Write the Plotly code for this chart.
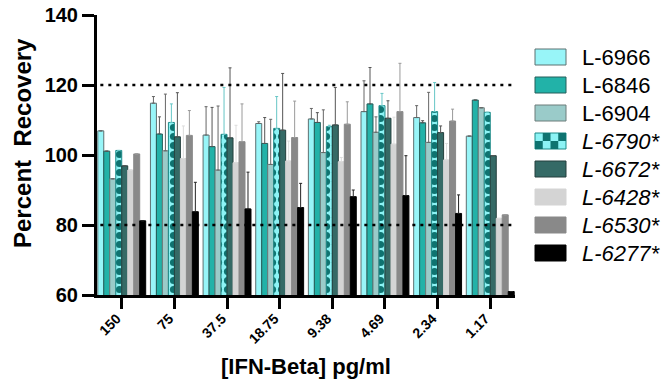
import plotly.graph_objects as go

# ---------------- data ----------------
concentrations = ["150", "75", "37.5", "18.75", "9.38", "4.69", "2.34", "1.17"]

series_names = ["L-6966", "L-6846", "L-6904", "L-6790*", "L-6672*", "L-6428*", "L-6530*", "L-6277*"]

l6966 = [106.9, 114.8, 105.7, 109.0, 110.3, 112.4, 110.7, 105.4]
l6846 = [101.1, 106.0, 102.4, 103.3, 109.3, 114.6, 109.2, 115.7]
l6904 = [93.2, 101.2, 95.7, 97.3, 100.7, 106.5, 103.6, 113.5]
l6790 = [101.3, 109.3, 105.9, 107.6, 108.1, 114.1, 112.4, 112.2]
l6672 = [96.9, 105.2, 104.9, 107.1, 108.6, 110.5, 106.4, 99.8]
l6428 = [95.7, 99.0, 97.8, 98.3, 98.1, 103.1, 98.6, 81.9]
l6530 = [100.3, 105.6, 103.8, 105.0, 108.8, 112.4, 109.7, 82.9]
l6277 = [81.2, 83.8, 84.6, 85.0, 88.1, 88.4, 83.3, 61.0]

# upper error (SD), None where no error bar is shown
e6966 = [None, 1.9, 8.1, 0.5, 3.0, 8.8, 3.4, None]
e6846 = [None, 4.9, 11.2, 7.4, 2.8, 10.4, 0.6, None]
e6904 = [None, 16.2, 18.3, 12.9, 12.2, 4.4, 14.3, None]
e6790 = [None, 5.3, 13.4, 9.1, 0.4, 3.5, 8.3, None]
e6672 = [None, 12.6, 20.0, 16.2, 10.7, 5.0, 1.9, None]
e6428 = [None, 9.3, 10.7, 5.7, 1.2, 7.7, 4.7, None]
e6530 = [None, 7.1, 10.8, 10.4, 6.4, 13.8, 3.4, None]
e6277 = [None, 8.4, 10.5, 6.9, 1.9, 11.4, 5.3, None]

limit_lines = [120, 80]
y_ticks = [60, 80, 100, 120, 140]

values = [l6966, l6846, l6904, l6790, l6672, l6428, l6530, l6277]
errors = [e6966, e6846, e6904, e6790, e6672, e6428, e6530, e6277]

# ---------------- styles ----------------
FONT = "Liberation Sans, Arial, sans-serif"
fills = ["#98F5F8", "#22B2A8", "#9ACBC9", "#8CF3F5", "#356A66", "#D4D4D4", "#898989", "#000000"]
outlines = ["#5d7071", "#245f5b", "#6d7c7b", "#1d8a88", "#243f3d", "#D4D4D4", "#898989", "#000000"]
err_colors = ["#666666", "#555555", "#666666", "#66c6c6", "#555555", "#dcdcdc", "#9a9a9a", "#222222"]
pattern_fg = "#0E7370"

fig = go.Figure()
for i, (name, vals, errs) in enumerate(zip(series_names, values, errors)):
    marker = dict(color=fills[i], line=dict(color=outlines[i], width=1))
    if name == "L-6790*":
        marker["pattern"] = dict(shape=".", fgcolor=pattern_fg, bgcolor=fills[i],
                                 fillmode="replace", fgopacity=1, size=9, solidity=0.5)
    fig.add_trace(go.Bar(
        x=concentrations, y=vals, name=name, marker=marker, showlegend=False,
        error_y=dict(type="data", symmetric=False, array=errs,
                     arrayminus=[0] * len(errs), color=err_colors[i],
                     thickness=1, width=1.5),
    ))

# dotted limit lines
for yv in limit_lines:
    fig.add_shape(type="line", xref="paper", yref="y", x0=0.008, x1=0.995, y0=yv, y1=yv,
                  line=dict(color="black", width=2.5, dash="3px,5px"), layer="above")

# ---------------- manual legend ----------------
W, H = 664, 384
L, R, T, B = 97, 149, 15, 89
pw, ph = W - L - R, H - T - B


def px_x(p):
    return (p - L) / pw


def px_y(p):
    return (H - B - p) / ph


leg_x0, leg_x1, leg_tx = 535, 566, 580
leg_y0, leg_step, box_h = 57, 28.0, 16
for i, name in enumerate(series_names):
    yc = leg_y0 + i * leg_step
    y0, y1 = px_y(yc + box_h / 2), px_y(yc - box_h / 2)
    fig.add_shape(type="rect", xref="paper", yref="paper",
                  x0=px_x(leg_x0), x1=px_x(leg_x1), y0=y0, y1=y1,
                  fillcolor=fills[i], line=dict(color=outlines[i], width=1))
    if name == "L-6790*":
        cols, rows = 4, 2
        cw = (leg_x1 - leg_x0) / cols
        rh = box_h / rows
        for r in range(rows):
            for c in range(cols):
                if (r + c) % 2 == 1:
                    fig.add_shape(type="rect", xref="paper", yref="paper",
                                  x0=px_x(leg_x0 + c * cw), x1=px_x(leg_x0 + (c + 1) * cw),
                                  y0=px_y(yc - box_h / 2 + (r + 1) * rh),
                                  y1=px_y(yc - box_h / 2 + r * rh),
                                  fillcolor=pattern_fg, line=dict(width=0))
    label = name if not name.endswith("*") else "<i>" + name + "</i>"
    fig.add_annotation(xref="paper", yref="paper", x=px_x(leg_tx), y=px_y(yc),
                       text=label, showarrow=False, xanchor="left", yanchor="middle",
                       font=dict(family=FONT, size=22, color="black"))

# axis titles
fig.add_annotation(xref="paper", yref="paper", x=px_x(306), y=px_y(366),
                   text="<b>[IFN-Beta] pg/ml</b>", showarrow=False,
                   xanchor="center", yanchor="middle",
                   font=dict(family=FONT, size=22, color="black"))
fig.add_annotation(xref="paper", yref="paper", x=px_x(22), y=px_y(143),
                   text="<b>Percent\u00a0\u00a0Recovery</b>", showarrow=False, textangle=-90,
                   xanchor="center", yanchor="middle",
                   font=dict(family=FONT, size=24, color="black"))

fig.update_layout(
    width=W, height=H,
    margin=dict(l=L, r=R, t=T, b=B, pad=0),
    paper_bgcolor="white", plot_bgcolor="white",
    barmode="group", bargap=0.09, bargroupgap=0,
    showlegend=False,
    font=dict(family=FONT, color="black"),
)
fig.update_xaxes(
    type="category", range=[-0.47, 7.47],
    showline=True, linecolor="black", linewidth=3,
    ticks="outside", ticklen=11, tickwidth=3, tickcolor="black",
    tickangle=-45, tickfont=dict(family=FONT, size=14, color="black", weight="bold"),
    ticklabelshift=-5, ticklabelstandoff=-4,
    showgrid=False, zeroline=False, automargin=False,
)
fig.update_yaxes(
    range=[60, 140], tickvals=y_ticks,
    showline=True, linecolor="black", linewidth=3,
    ticks="outside", ticklen=12, tickwidth=3, tickcolor="black",
    tickfont=dict(family=FONT, size=20, color="black", weight="bold"),
    showgrid=False, zeroline=False, automargin=False,
)

fig.write_html(
    "out.html",
    config={"displayModeBar": False},
    post_script="document.body.style.margin='0';document.body.style.overflow='hidden';",
)
